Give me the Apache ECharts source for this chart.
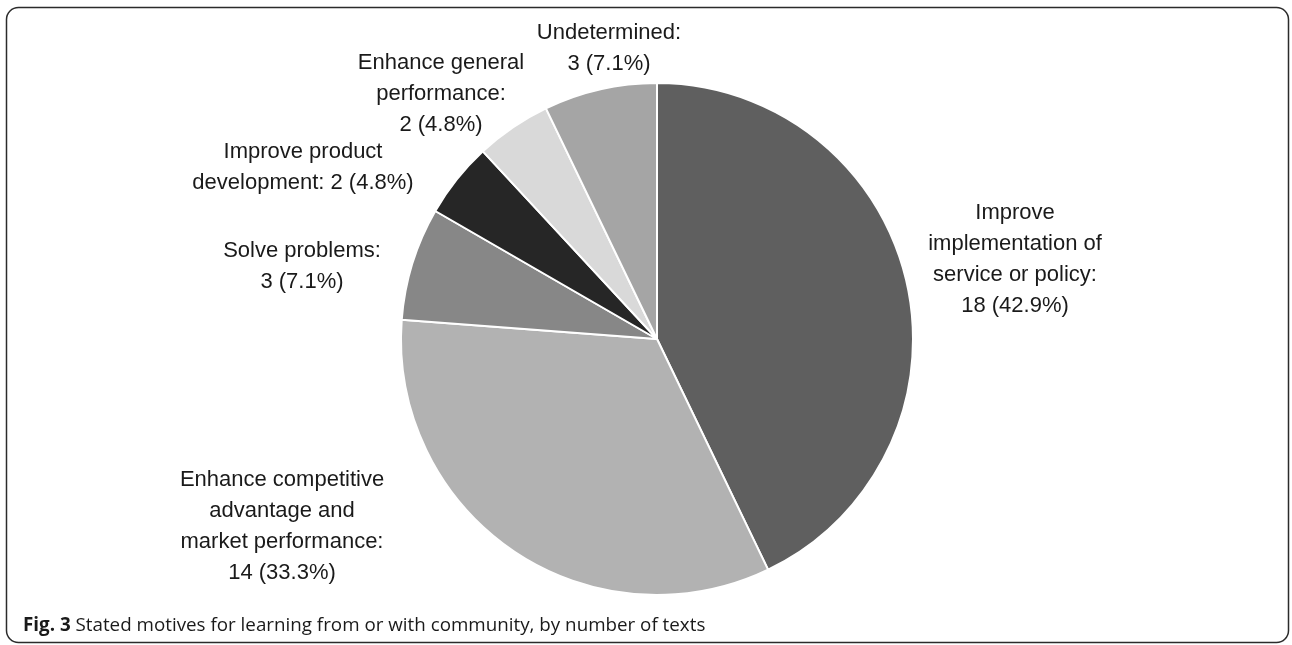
<!DOCTYPE html>
<html>
<head>
<meta charset="utf-8">
<script src="https://cdn.jsdelivr.net/npm/echarts@6/dist/echarts.min.js"></script>
<style>
html,body{margin:0;padding:0;background:#fff;}
#chart{width:1292px;height:645px;}
</style>
</head>
<body>
<div id="chart"></div>
<script>
// ---- data ----
const categories = [
  "Improve\nimplementation of\nservice or policy:",
  "Enhance competitive\nadvantage and\nmarket performance:",
  "Solve problems:",
  "Improve product\ndevelopment:",
  "Enhance general\nperformance:",
  "Undetermined:"
];
const values = [18, 14, 3, 2, 2, 3];
const valueOnSameLine = [false, false, false, true, false, false];
const captionBold = "Fig. 3";
const captionText = "Stated motives for learning from or with community, by number of texts";

// ---- styling / layout (not data) ----
const sliceColors = ["#5f5f5f", "#b2b2b2", "#878787", "#262626", "#d9d9d9", "#a5a5a5"];
const labelCenters = [
  [1015, 259],
  [282, 526],
  [302, 266],
  [303, 167],
  [441, 94],
  [609, 48]
];

const chart = echarts.init(document.getElementById('chart'), null, {renderer: 'canvas'});
const option = {
  animation: false,
  backgroundColor: '#ffffff',
  graphic: [
    {
      type: 'rect',
      shape: {x: 6.5, y: 7.5, width: 1282, height: 635, r: 12},
      style: {fill: 'none', stroke: '#2b2b2b', lineWidth: 1.5},
      z: 0
    },
    {
      type: 'text',
      x: 23, y: 626,
      style: {
        text: '{b|' + captionBold + '} ' + captionText,
        font: '18.8px "Open Sans"',
        fill: '#1a1a1a',
        verticalAlign: 'middle',
        rich: {
          b: {fontWeight: 'bold', fontSize: 18.8, fontFamily: '"Open Sans"', fill: '#1a1a1a'}
        }
      }
    }
  ],
  series: [{
    type: 'pie',
    center: [657, 339],
    radius: [0, 256],
    startAngle: 90,
    clockwise: true,
    percentPrecision: 1,
    avoidLabelOverlap: false,
    itemStyle: {borderColor: '#ffffff', borderWidth: 2},
    label: {
      show: true,
      position: 'outside',
      fontFamily: '"Liberation Sans", Arial, sans-serif',
      fontSize: 22,
      lineHeight: 31,
      color: '#1a1a1a',
      align: 'center',
      formatter: function (p) {
        const sep = valueOnSameLine[p.dataIndex] ? ' ' : '\n';
        return p.name + sep + p.value + ' (' + p.percent.toFixed(1) + '%)';
      }
    },
    labelLine: {show: false},
    labelLayout: function (params) {
      const c = labelCenters[params.dataIndex];
      return {x: c[0], y: c[1], align: 'center', verticalAlign: 'middle'};
    },
    data: categories.map((n, i) => ({
      name: n, value: values[i], itemStyle: {color: sliceColors[i]}
    }))
  }]
};
chart.setOption(option);
</script>
</body>
</html>
